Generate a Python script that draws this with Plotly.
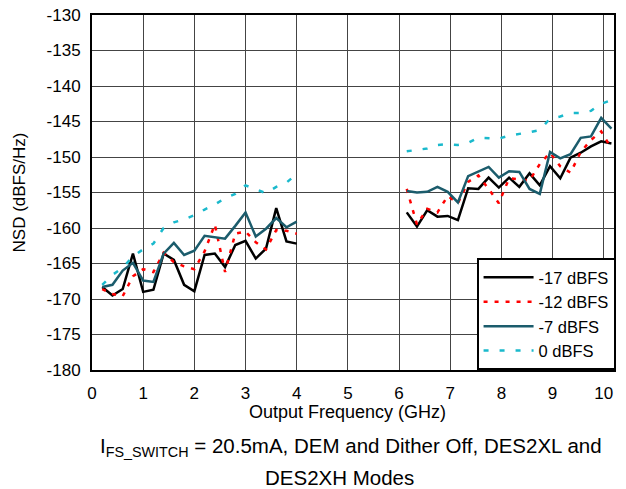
import plotly.graph_objects as go

freq_low = [0.2, 0.4, 0.6, 0.8, 1.0, 1.2, 1.4, 1.6, 1.8, 2.0, 2.2, 2.4, 2.6, 2.8, 3.0, 3.2, 3.4, 3.6, 3.8, 4.0]
freq_high = [6.15, 6.35, 6.55, 6.75, 6.95, 7.15, 7.35, 7.55, 7.75, 7.95, 8.15, 8.35, 8.55, 8.75, 8.95, 9.15, 9.35, 9.55, 9.75, 9.95, 10.15]

m17_low = [-168.3, -169.5, -168.6, -163.6, -169.0, -168.7, -163.6, -164.5, -168.0, -168.9, -163.8, -163.6, -165.5, -162.4, -161.8, -164.3, -162.9, -157.2, -161.9, -162.2]
m17_high = [-157.8, -159.8, -157.5, -158.4, -158.3, -158.9, -154.4, -154.5, -152.9, -154.3, -152.9, -154.2, -152.3, -154.0, -151.3, -153.0, -150.1, -149.4, -148.5, -147.8, -148.1]

m12_low = [-168.6, -169.3, -169.6, -166.8, -165.8, -166.2, -163.5, -164.8, -165.4, -165.8, -163.3, -159.5, -166.2, -160.8, -160.5, -162.0, -163.0, -160.3, -160.4, -160.8]
m12_high = [-154.5, -159.5, -157.3, -157.8, -155.5, -156.5, -153.5, -152.6, -154.5, -156.5, -153.0, -153.2, -153.3, -151.0, -149.4, -151.3, -152.2, -149.3, -147.6, -146.4, -148.8]

m7_low = [-168.3, -168.0, -166.0, -164.9, -167.4, -167.6, -163.6, -162.1, -163.8, -163.2, -161.1, -161.3, -161.5, -159.7, -157.8, -161.2, -160.1, -158.6, -159.9, -159.1]
m7_high = [-154.8, -155.0, -154.9, -154.2, -154.9, -156.4, -152.7, -152.1, -151.4, -152.9, -152.0, -152.1, -154.5, -155.2, -149.3, -150.2, -149.6, -147.3, -147.1, -144.5, -146.0]

z0_low = [-168.0, -166.6, -165.6, -164.0, -163.0, -162.2, -160.0, -159.2, -158.8, -158.2, -157.4, -156.7, -155.8, -155.2, -154.0, -154.6, -155.1, -154.2, -153.6, -152.4]
z0_high = [-149.2, -149.0, -148.8, -148.3, -148.2, -148.3, -148.0, -147.3, -147.4, -147.4, -147.0, -146.8, -146.5, -146.2, -144.6, -144.3, -143.8, -143.8, -143.5, -142.5, -142.0]

series_names = ["-17 dBFS", "-12 dBFS", "-7 dBFS", "0 dBFS"]
x_ticks = [0, 1, 2, 3, 4, 5, 6, 7, 8, 9, 10]
y_ticks = [-180, -175, -170, -165, -160, -155, -150, -145, -140, -135, -130]

x_all = freq_low + [None] + freq_high
styles = [
    dict(color="#000000", width=2.5, dash="solid"),
    dict(color="#ff0000", width=2.5, dash="4px,7px"),
    dict(color="#1b5c6c", width=2.5, dash="solid"),
    dict(color="#1ab9cc", width=2.5, dash="5px,11px"),
]
data = [(m17_low, m17_high), (m12_low, m12_high), (m7_low, m7_high), (z0_low, z0_high)]

fig = go.Figure()
for name, (lo, hi), st in zip(series_names, data, styles):
    fig.add_trace(go.Scatter(x=x_all, y=lo + [None] + hi, mode="lines", name=name,
                             line=st, connectgaps=False))

font = "Liberation Sans, Arial, sans-serif"
fig.update_layout(
    width=626, height=489,
    margin=dict(l=92, r=12, t=15, b=119, autoexpand=False),
    paper_bgcolor="white", plot_bgcolor="white",
    font=dict(family=font, size=17, color="black"),
    showlegend=True,
    legend=dict(x=1.003, y=0, xanchor="right", yanchor="bottom",
                bordercolor="black", borderwidth=2, bgcolor="white",
                font=dict(size=16.5), tracegroupgap=0, itemwidth=50),
    xaxis=dict(range=[0, 10.2], tickvals=x_ticks, ticktext=[str(t) for t in x_ticks],
               showgrid=True, gridcolor="#444444", gridwidth=1,
               showline=True, linecolor="black", linewidth=2, mirror=True,
               ticks="", zeroline=False, automargin=False, ticklabelstandoff=7,
               tickfont=dict(size=17)),
    yaxis=dict(range=[-180, -130], tickvals=y_ticks, ticktext=[str(t) for t in y_ticks],
               showgrid=True, gridcolor="#444444", gridwidth=1,
               showline=True, linecolor="black", linewidth=2, mirror=True,
               ticks="", zeroline=False, automargin=False, ticklabelstandoff=6,
               tickfont=dict(size=17)),
)

fig.add_annotation(text="Output Frequency (GHz)", xref="paper", yref="paper",
                   x=0.49, y=-0.118, xanchor="center", yanchor="middle",
                   showarrow=False, font=dict(size=18, family=font))
fig.add_annotation(text="NSD (dBFS/Hz)", xref="paper", yref="paper",
                   x=-0.138, y=0.5, xanchor="center", yanchor="middle", textangle=-90,
                   showarrow=False, font=dict(size=17, family=font))
fig.add_annotation(text="I<sub>FS_SWITCH</sub> = 20.5mA, DEM and Dither Off, DES2XL and",
                   xref="paper", yref="paper", x=0.497, y=-0.217, xanchor="center", yanchor="middle",
                   showarrow=False, font=dict(size=20.5, family=font))
fig.add_annotation(text="DES2XH Modes",
                   xref="paper", yref="paper", x=0.475, y=-0.304, xanchor="center", yanchor="middle",
                   showarrow=False, font=dict(size=20.5, family=font))

fig.write_html("out.html", config={"displayModeBar": False},
               post_script="document.body.style.margin='0';document.body.style.padding='0';")
